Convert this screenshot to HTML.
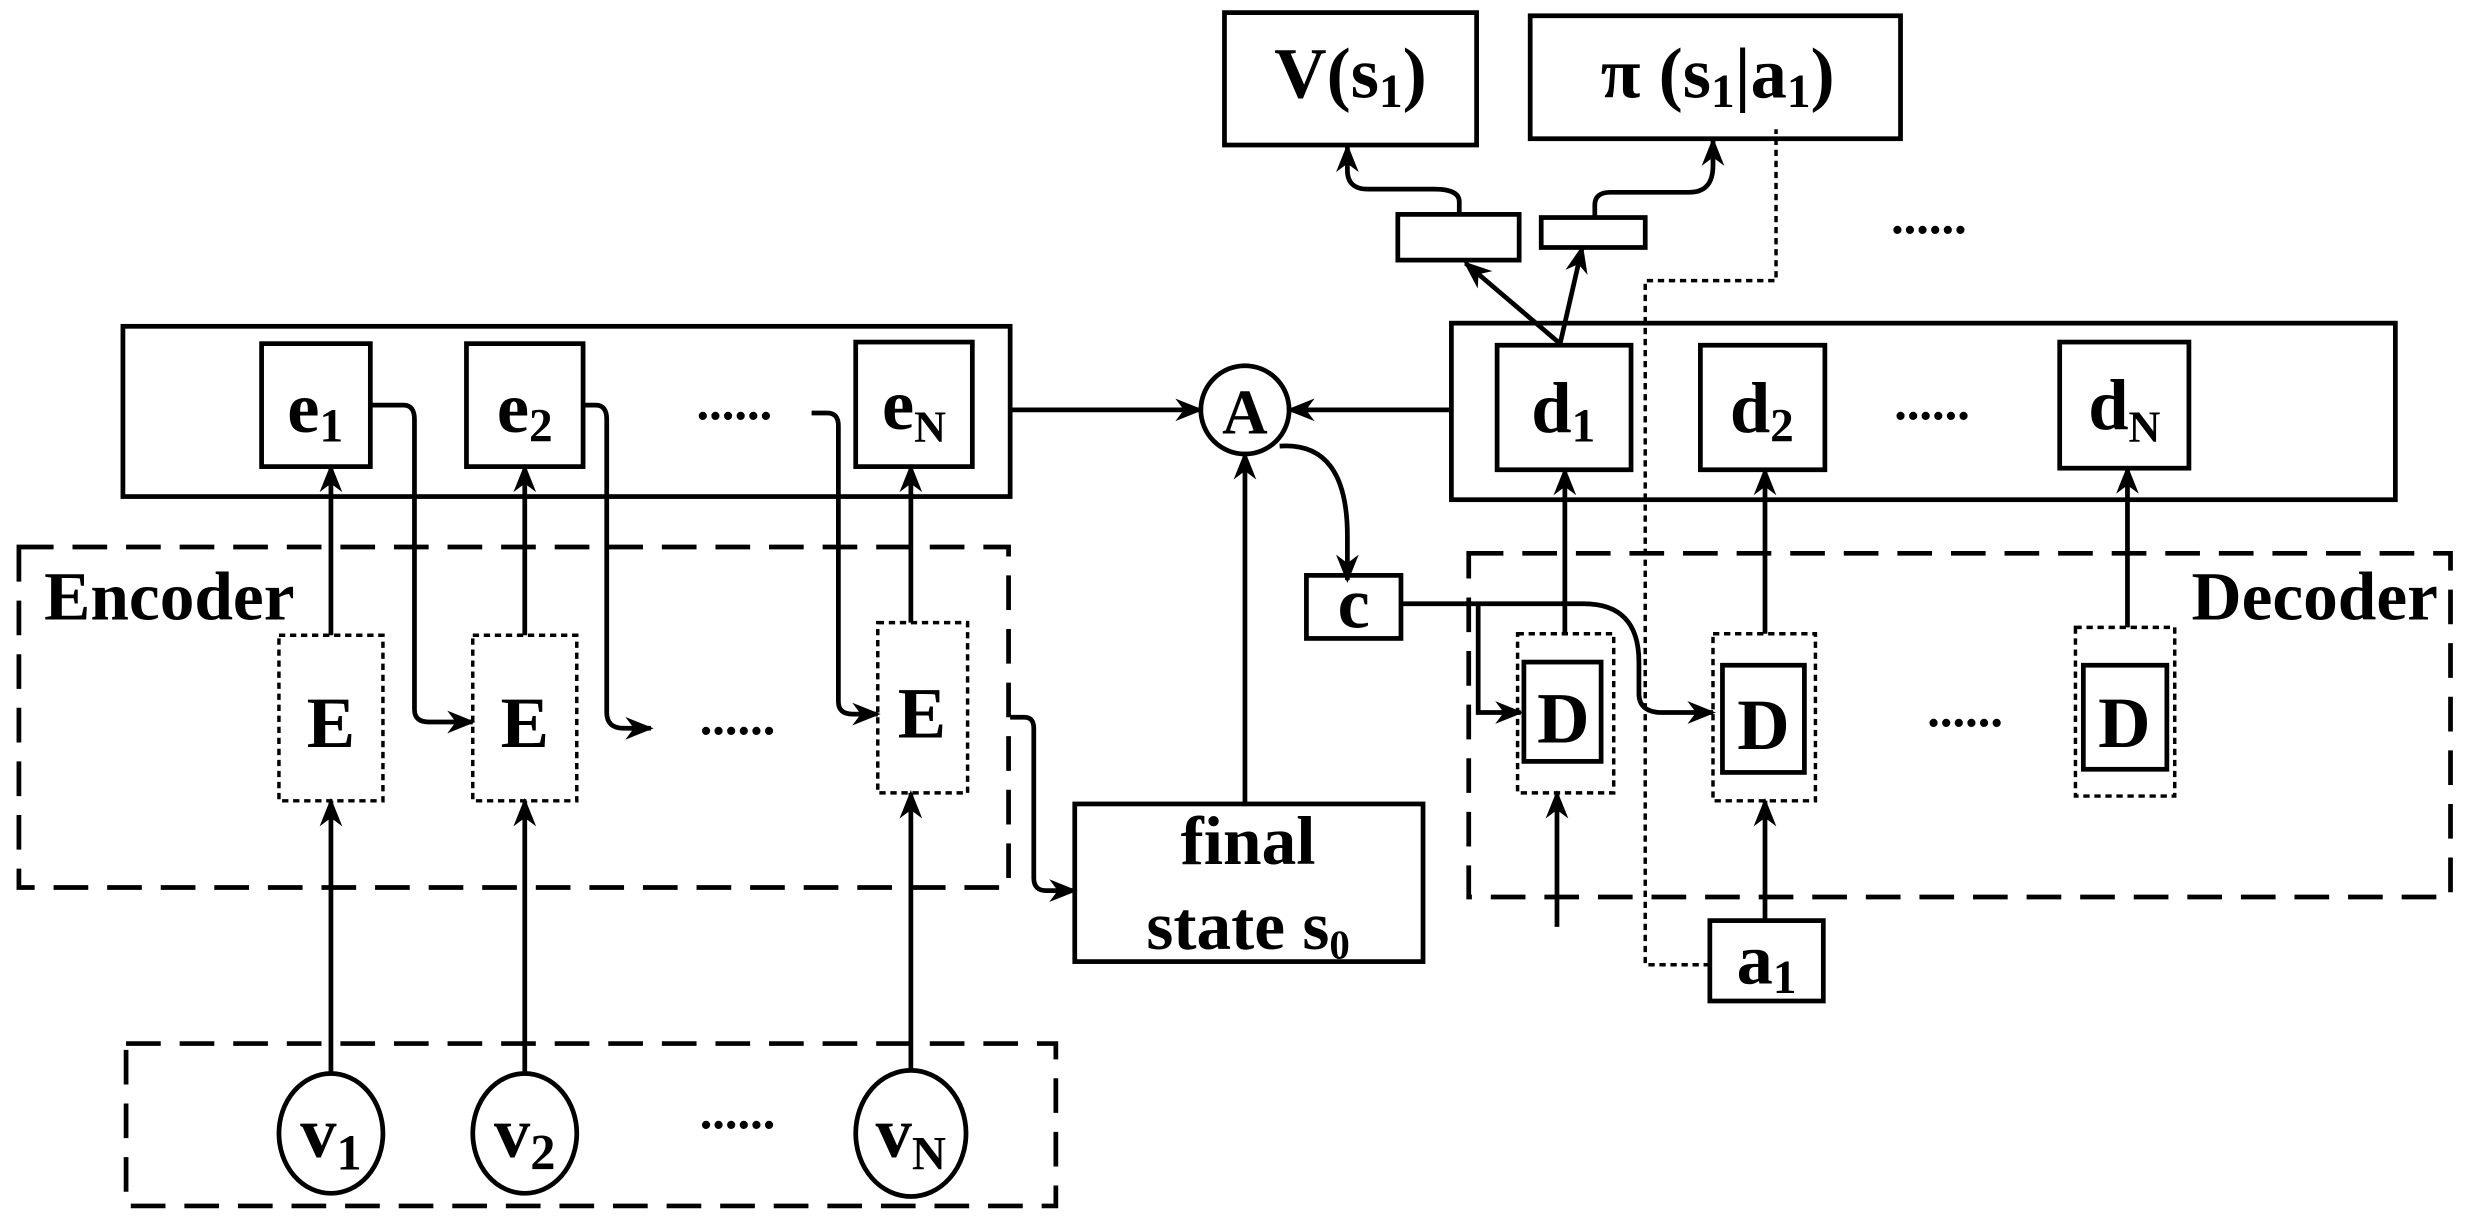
<!DOCTYPE html>
<html><head><meta charset="utf-8"><style>html,body{margin:0;padding:0;background:#fff}svg{display:block}</style></head>
<body>
<svg width="2471" height="1228" viewBox="0 0 1568 779" preserveAspectRatio="none" xmlns="http://www.w3.org/2000/svg" font-family="Liberation Serif, serif" font-weight="bold">
<defs>
<marker id="a" viewBox="0 0 10 10" refX="9" refY="5" markerWidth="18" markerHeight="18" orient="auto" markerUnits="userSpaceOnUse"><path d="M0,1 L10,5 L0,9 L3,5 z" fill="#000"/></marker></defs>
<g fill="none" stroke="#000" stroke-width="3">
<rect x="78" y="207" width="563" height="108"/>
<rect x="166" y="218" width="69" height="78"/><rect x="296" y="218" width="74" height="78"/><rect x="543" y="217" width="74" height="79"/>
<rect x="12" y="347" width="628" height="216" stroke-dasharray="22 12"/>
<rect x="80" y="662" width="590" height="103" stroke-dasharray="22 12"/>
<g stroke-dasharray="4 3" stroke-width="2.2"><rect x="177" y="403" width="66" height="105"/><rect x="300" y="403" width="66" height="105"/><rect x="557" y="395" width="57" height="108"/></g>
<ellipse cx="210" cy="719" rx="33" ry="38"/><ellipse cx="333" cy="719" rx="33" ry="38"/><ellipse cx="578" cy="719" rx="35" ry="40"/>
<g marker-end="url(#a)">
<path d="M210 681 V508"/><path d="M333 681 V508"/><path d="M578 679 V503"/>
<path d="M210 403 V296"/><path d="M333 403 V296"/><path d="M578 395 V296"/>
<path d="M235 257 H256 Q263 257 263 266 V450 Q263 458 272 458 H300"/>
<path d="M370 257 H378 Q385 257 385 266 V452 Q385 462 396 462 H413"/>
<path d="M515 262 H525 Q532 262 532 270 V445 Q532 453 541 453 H557"/>
<path d="M641 455 H650 Q656 455 656 462 V557 Q656 565 664 565 H682"/>
<path d="M641 260 H762"/><path d="M790 510 V288"/><path d="M921 260 H818"/>
<path d="M812 283 Q855 280 855 340 V368"/>
<path d="M889 383 H1005 Q1040 383 1040 420 V440 Q1040 452 1055 452 H1087"/>
<path d="M938 383 V452 H965"/>
<path d="M993 402 V298"/><path d="M1120 402 V298"/><path d="M1350 398 V297"/>
<path d="M988 588 V503"/><path d="M1120 584 V508"/>
<path d="M990 218 L930 167"/><path d="M990 218 L1004 157"/>
<path d="M926 136 V128 Q926 120 910 120 H868 Q855 120 855 108 V93"/>
<path d="M1012 138 V130 Q1012 122 1022 122 H1072 Q1087 122 1087 105 V89"/>
</g>
<rect x="682" y="510" width="221" height="100"/>
<circle cx="790" cy="260" r="28"/>
<rect x="921" y="205" width="599" height="112"/>
<rect x="950" y="219" width="85" height="79"/><rect x="1079" y="219" width="79" height="79"/><rect x="1307" y="217" width="82" height="80"/>
<rect x="829" y="365" width="60" height="40"/>
<rect x="932" y="351" width="623" height="218" stroke-dasharray="22 12"/>
<g stroke-dasharray="4 3" stroke-width="2.2"><rect x="963" y="402" width="61" height="101"/><rect x="1087" y="402" width="65" height="106"/><rect x="1317" y="398" width="63" height="107"/></g>
<rect x="967" y="420" width="49" height="63"/><rect x="1093" y="422" width="52" height="68"/><rect x="1322" y="422" width="53" height="66"/>
<rect x="1085" y="584" width="72" height="51"/>
<path d="M1085 612 H1044 V178 H1127 V82" stroke-dasharray="4 3" stroke-width="2.2"/>
<rect x="777" y="8" width="160" height="84"/><rect x="971" y="10" width="235" height="78"/>
<rect x="887" y="136" width="77" height="29"/><rect x="978" y="138" width="66" height="19"/>
</g>
<g fill="#000" font-size="46" text-anchor="middle">
<text x="200" y="274">e<tspan font-size="30" dy="6">1</tspan></text>
<text x="333" y="274">e<tspan font-size="30" dy="6">2</tspan></text>
<text x="580" y="272">e<tspan font-size="28" dy="8">N</tspan></text>
<text x="210" y="474">E</text><text x="333" y="474">E</text><text x="585" y="468">E</text>
<text x="210" y="734">v<tspan font-size="32" dy="8">1</tspan></text>
<text x="333" y="734">v<tspan font-size="32" dy="8">2</tspan></text>
<text x="578" y="734">v<tspan font-size="30" dy="8">N</tspan></text>
<text x="790" y="275" font-size="40">A</text>
<text x="859" y="398">c</text>
<text x="792" y="548" font-size="44">final</text>
<text x="792" y="602" font-size="44">state s<tspan font-size="26" dy="6">0</tspan></text>
<text x="992" y="274">d<tspan font-size="30" dy="6">1</tspan></text>
<text x="1118" y="274">d<tspan font-size="30" dy="6">2</tspan></text>
<text x="1348" y="272">d<tspan font-size="28" dy="8">N</tspan></text>
<text x="992" y="471">D</text><text x="1119" y="475">D</text><text x="1348" y="474">D</text>
<text x="1121" y="624">a<tspan font-size="30" dy="6">1</tspan></text>
<text x="857" y="62">V(s<tspan font-size="30" dy="6">1</tspan><tspan dy="-6">)</tspan></text>
<text x="1090" y="62">π (s<tspan font-size="30" dy="6">1</tspan><tspan dy="-6">|a</tspan><tspan font-size="30" dy="6">1</tspan><tspan dy="-6">)</tspan></text>
<text x="28" y="393" text-anchor="start" font-size="44">Encoder</text>
<text x="1547" y="393" text-anchor="end" font-size="44">Decoder</text>
<text x="466" y="266" font-size="32">......</text>
<text x="468" y="466" font-size="32">......</text>
<text x="468" y="716" font-size="32">......</text>
<text x="1226" y="266" font-size="32">......</text>
<text x="1247" y="461" font-size="32">......</text>
<text x="1224" y="148" font-size="32">......</text>
</g>
</svg>
</body></html>
